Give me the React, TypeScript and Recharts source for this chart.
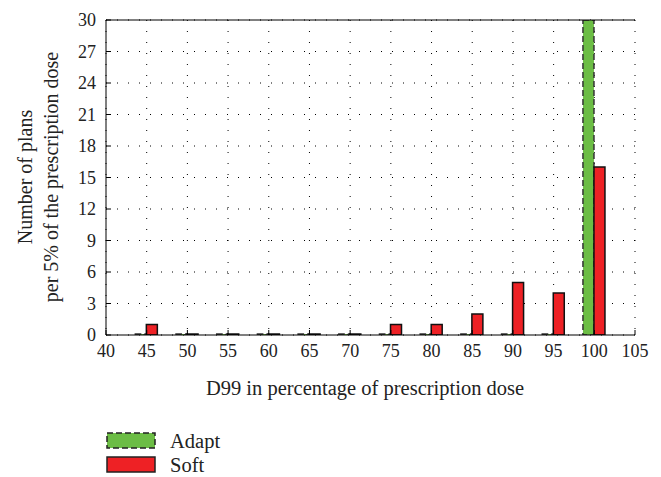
import React from "react";
import { BarChart, Bar, XAxis, YAxis, CartesianGrid, Label } from "recharts";

const categories = [45, 50, 55, 60, 65, 70, 75, 80, 85, 90, 95, 100];
const adaptValues = [0, 0, 0, 0, 0, 0, 0, 0, 0, 0, 0, 30];
const softValues = [1, 0, 0, 0, 0, 0, 1, 1, 2, 5, 4, 16];
const xTicks = [40, 45, 50, 55, 60, 65, 70, 75, 80, 85, 90, 95, 100, 105];
const yTicks = [0, 3, 6, 9, 12, 15, 18, 21, 24, 27, 30];

const data = categories.map((dose, i) => ({
  dose,
  adapt: adaptValues[i],
  soft: softValues[i],
}));

const FONT = "Liberation Serif, DejaVu Serif, serif";
const GREEN = "#6cbd45";
const RED = "#ee2125";

const XTick = (props: any) => {
  const { x, y, payload } = props;
  return (
    <g>
      <line x1={x} x2={x} y1={y - 8} y2={y - 13} stroke="#000" />
      <text x={x} y={y} dy="0.78em" textAnchor="middle" fontSize={18} fill="#222" fontFamily={FONT}>
        {payload.value}
      </text>
    </g>
  );
};

const YTick = (props: any) => {
  const { x, y, payload } = props;
  return (
    <g>
      <line x1={x + 10} x2={x + 15} y1={y} y2={y} stroke="#000" />
      <text x={x} y={y} dy="0.35em" textAnchor="end" fontSize={18} fill="#222" fontFamily={FONT}>
        {payload.value}
      </text>
    </g>
  );
};

const YLabel = () => (
  <g fontFamily={FONT} fontSize={20} fill="#222">
    <text transform="translate(32,177) rotate(-90)" textAnchor="middle">
      Number of plans
    </text>
    <text transform="translate(58,177) rotate(-90)" textAnchor="middle">
      per 5% of the prescription dose
    </text>
  </g>
);

const XLabel = () => (
  <text x={365} y={395} textAnchor="middle" fontFamily={FONT} fontSize={20.5} fill="#222">
    D99 in percentage of prescription dose
  </text>
);

export default function App() {
  return (
    <div style={{ position: "absolute", left: 0, top: 0, width: 661, height: 477 }}>
      <BarChart
        width={661}
        height={477}
        data={data}
        margin={{ top: 20, right: 26, left: 66, bottom: 112 }}
        barGap={0}
        barSize={11}
      >
        <CartesianGrid stroke="#000" strokeDasharray="1 10" />
        <XAxis
          dataKey="dose"
          type="number"
          domain={[40, 105]}
          ticks={xTicks}
          interval={0}
          tickSize={0}
          tickMargin={8}
          tickLine={false}
          tick={<XTick />}
          stroke="#000"
          height={30}
        >
          <Label content={<XLabel />} />
        </XAxis>
        <XAxis
          xAxisId="top"
          orientation="top"
          type="number"
          domain={[40, 105]}
          ticks={xTicks}
          mirror
          tick={false}
          tickSize={5}
          stroke="#000"
        />
        <YAxis
          domain={[0, 30]}
          ticks={yTicks}
          interval={0}
          allowDataOverflow
          width={40}
          tickSize={0}
          tickMargin={10}
          tickLine={false}
          tick={<YTick />}
          stroke="#000"
        >
          <Label content={<YLabel />} />
        </YAxis>
        <YAxis
          yAxisId="r"
          orientation="right"
          domain={[0, 30]}
          ticks={yTicks}
          mirror
          tick={false}
          tickSize={5}
          width={0}
          stroke="#000"
        />
        <Bar
          dataKey="adapt"
          fill={GREEN}
          stroke="#333"
          strokeWidth={1.5}
          strokeDasharray="6 3"
          minPointSize={1}
          isAnimationActive={false}
        />
        <Bar
          dataKey="soft"
          fill={RED}
          stroke="#111"
          strokeWidth={1.5}
          minPointSize={1}
          isAnimationActive={false}
        />
      </BarChart>
      <div style={{ position: "absolute", left: 0, top: 0, width: 661, height: 477, pointerEvents: "none" }}>
        <svg width={661} height={477}>
          <rect x={107} y={433} width={48} height={15} fill={GREEN} stroke="#222" strokeWidth={1.5} strokeDasharray="6 3" />
          <text x={170} y={448} fontFamily={FONT} fontSize={20.5} fill="#222">
            Adapt
          </text>
          <rect x={107} y={457} width={48} height={15} fill={RED} stroke="#222" strokeWidth={1.5} />
          <text x={170} y={472} fontFamily={FONT} fontSize={20.5} fill="#222">
            Soft
          </text>
        </svg>
      </div>
    </div>
  );
}
